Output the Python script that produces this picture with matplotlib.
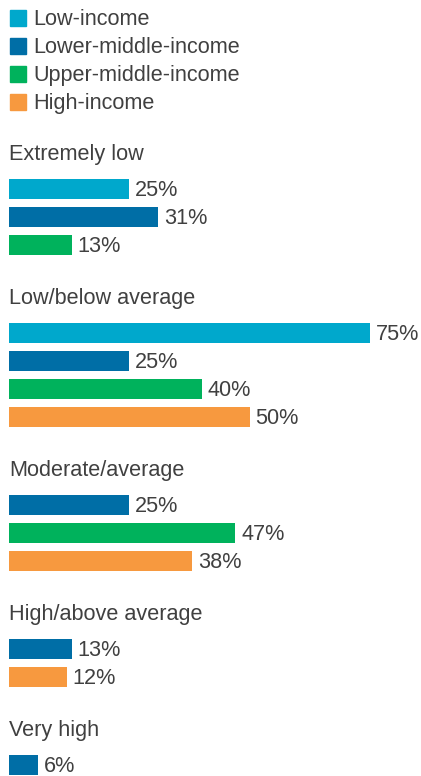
import matplotlib.pyplot as plt

# series / categories
income_groups = ["Low-income", "Lower-middle-income", "Upper-middle-income", "High-income"]
colors = ["#00a8cc", "#006ea6", "#00b25c", "#f7993f"]

levels = ["Extremely low", "Low/below average", "Moderate/average",
          "High/above average", "Very high"]
# values per level, None where a group has no bar
low_income = [25, 75, None, None, None]
lower_middle = [31, 25, 25, 13, 6]
upper_middle = [13, 40, 47, None, None]
high_income = [None, 50, 38, 12, None]
series = [low_income, lower_middle, upper_middle, high_income]

W, H = 421, 776
px_per_pct = 4.813
left_px = 9
text_color = "#404040"
fs = 15.6
dy = 1.5  # small nudge so text sits like the reference

plt.rcParams['font.family'] = ['Liberation Sans', 'DejaVu Sans']

fig = plt.figure(figsize=(W / 100, H / 100), dpi=100)
ax = fig.add_axes([0, 0, 1, 1])
ax.set_xlim(-left_px / px_per_pct, (W - left_px) / px_per_pct)
ax.set_ylim(H, 0)
ax.axis('off')

# legend
y = 18
for name, c in zip(income_groups, colors):
    ax.plot([8.5 / px_per_pct], [y], marker='s', markersize=11, color=c, linestyle='none')
    ax.text(24 / px_per_pct, y + dy, name, fontsize=fs, color=text_color, va='center', ha='left')
    y += 28

# groups
y = 153
for i, level in enumerate(levels):
    ax.text(0, y + dy, level, fontsize=fs, color=text_color, va='center', ha='left')
    y += 36
    for s, c in zip(series, colors):
        v = s[i]
        if v is None:
            continue
        ax.barh(y, v, height=20, left=0, color=c)
        ax.text(v + 6 / px_per_pct, y + dy, f"{v}%", fontsize=fs, color=text_color,
                va='center', ha='left')
        y += 28
    y += 52 - 28

fig.savefig("out.png", dpi=100)
